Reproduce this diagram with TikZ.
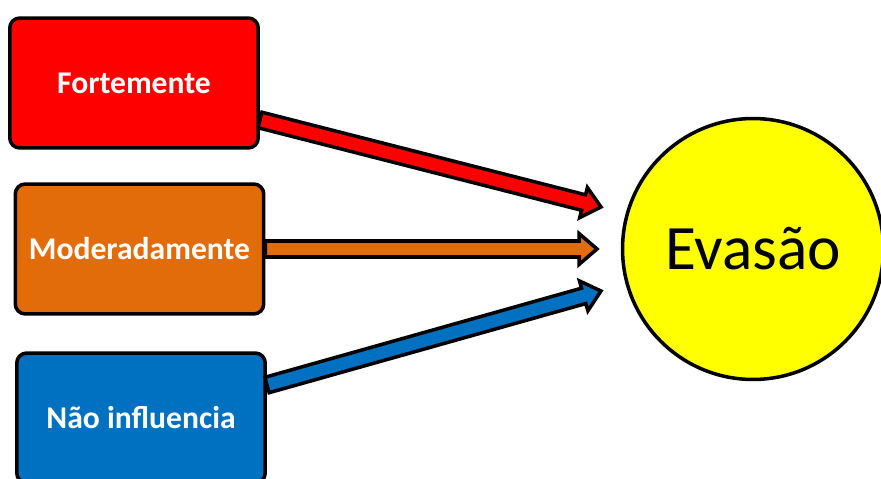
\documentclass[tikz,border=0pt]{standalone}
\usepackage{fontspec}
\setmainfont{Carlito}
\usepackage{xcolor}
\usetikzlibrary{calc}

\definecolor{boxred}{HTML}{FF0000}
\definecolor{boxorange}{HTML}{E36C0A}
\definecolor{boxblue}{HTML}{0070C0}
\definecolor{goalyellow}{HTML}{FFFF00}

% block arrow: fill colour, start, tip
\newcommand{\blockarrow}[3]{%
  \path (#2) coordinate (ba-s) (#3) coordinate (ba-t);
  \coordinate (ba-h) at ($(ba-t)!0.36cm!(ba-s)$);
  \filldraw[fill=#1,draw=black,line width=2pt,line join=miter]
    ($(ba-s)!0.16cm!90:(ba-t)$) -- ($(ba-h)!0.16cm!90:(ba-t)$)
    -- ($(ba-h)!0.31cm!90:(ba-t)$) -- (ba-t)
    -- ($(ba-h)!0.31cm!-90:(ba-t)$) -- ($(ba-h)!0.16cm!-90:(ba-t)$)
    -- ($(ba-s)!0.16cm!-90:(ba-t)$) -- cycle;}

\begin{document}
\begin{tikzpicture}[x=0.02cm,y=-0.02cm,
      level box/.style={draw=black,line width=2pt,rounded corners=0.2cm,
        minimum width=4.97cm,minimum height=2.6cm,text=white,
        font=\fontsize{18}{20}\selectfont\bfseries},
      goal node/.style={circle,draw=black,line width=2pt,fill=goalyellow,
        minimum size=5.22cm,font=\fontsize{36}{40}\selectfont}]
    \clip (0,0) rectangle (881,479);
    \node[level box,fill=boxred]    (forte) at (134,83)  {Fortemente};
    \node[level box,fill=boxorange] (moder) at (139.5,249) {Moderadamente};
    \node[level box,fill=boxblue]   (nao)   at (141,418) {Não influencia};
    \node[goal node] (evasao) at (753,249) {Evasão};
    \coordinate (forte out) at ([yshift=-0.74cm]forte.east);
    \coordinate (nao out)   at ([yshift=0.66cm]nao.east);
    \coordinate (forte in)  at (601,207);
    \coordinate (moder in)  at (597,249);
    \coordinate (nao in)    at (601,291);
    \blockarrow{boxred}{forte out}{forte in}
    \blockarrow{boxorange}{moder.east}{moder in}
    \blockarrow{boxblue}{nao out}{nao in}
\end{tikzpicture}
\end{document}
